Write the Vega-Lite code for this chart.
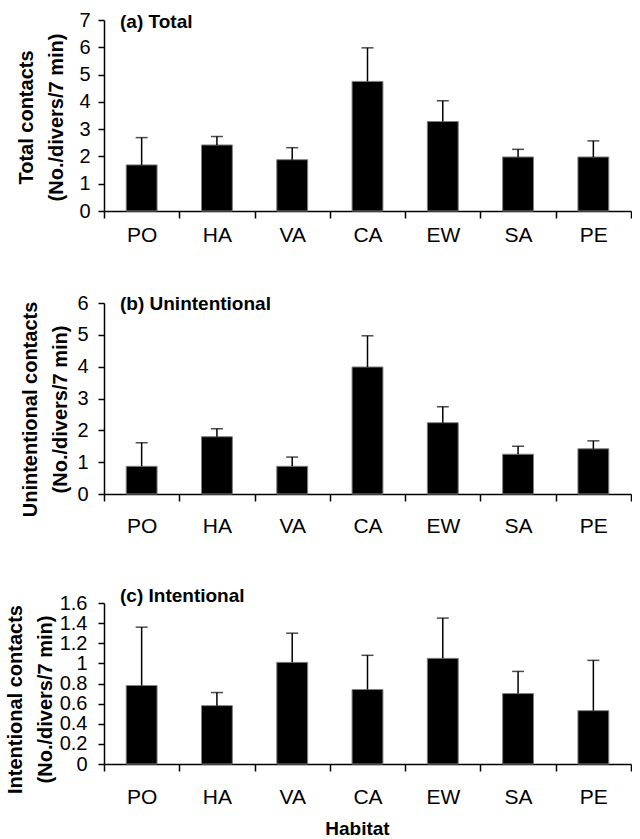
{
  "$schema": "https://vega.github.io/schema/vega-lite/v6.json",
  "padding": {"left": 5, "top": 10, "right": 0, "bottom": 2},
  "background": "white",
  "datasets": {
    "contacts": [
      {"panel": "a", "habitat": "PO", "mean": 1.69, "upper": 2.69},
      {"panel": "a", "habitat": "HA", "mean": 2.42, "upper": 2.73},
      {"panel": "a", "habitat": "VA", "mean": 1.88, "upper": 2.32},
      {"panel": "a", "habitat": "CA", "mean": 4.75, "upper": 5.98},
      {"panel": "a", "habitat": "EW", "mean": 3.28, "upper": 4.04},
      {"panel": "a", "habitat": "SA", "mean": 1.98, "upper": 2.26},
      {"panel": "a", "habitat": "PE", "mean": 1.98, "upper": 2.57},
      {"panel": "b", "habitat": "PO", "mean": 0.87, "upper": 1.61},
      {"panel": "b", "habitat": "HA", "mean": 1.80, "upper": 2.05},
      {"panel": "b", "habitat": "VA", "mean": 0.87, "upper": 1.16},
      {"panel": "b", "habitat": "CA", "mean": 3.99, "upper": 4.97},
      {"panel": "b", "habitat": "EW", "mean": 2.24, "upper": 2.74},
      {"panel": "b", "habitat": "SA", "mean": 1.25, "upper": 1.50},
      {"panel": "b", "habitat": "PE", "mean": 1.42, "upper": 1.67},
      {"panel": "c", "habitat": "PO", "mean": 0.78, "upper": 1.36},
      {"panel": "c", "habitat": "HA", "mean": 0.58, "upper": 0.71},
      {"panel": "c", "habitat": "VA", "mean": 1.01, "upper": 1.30},
      {"panel": "c", "habitat": "CA", "mean": 0.74, "upper": 1.08},
      {"panel": "c", "habitat": "EW", "mean": 1.05, "upper": 1.45},
      {"panel": "c", "habitat": "SA", "mean": 0.70, "upper": 0.92},
      {"panel": "c", "habitat": "PE", "mean": 0.53, "upper": 1.03}
    ]
  },
  "data": {"name": "contacts"},
  "spacing": 48,
  "vconcat": [
    {
      "width": 527,
      "height": 191,
      "transform": [{"filter": "datum.panel === 'a'"}],
      "title": {"text": "(a) Total", "offset": -22.4},
      "encoding": {
        "x": {"field": "habitat", "type": "nominal", "sort": null,
              "scale": {"paddingInner": 0, "paddingOuter": 0},
              "axis": {"title": null, "labelPadding": 6}}
      },
      "layer": [
        {"mark": {"type": "bar", "width": {"band": 0.41}, "color": "black", "stroke": "#808080", "strokeWidth": 1},
         "encoding": {"y": {"field": "mean", "type": "quantitative",
              "scale": {"domain": [0, 7], "nice": false, "zero": true},
              "axis": {"values": [0, 1, 2, 3, 4, 5, 6, 7], "labelPadding": 8, "titlePadding": 12,
                       "titleLineHeight": 30, "titleY": 97,
                       "title": ["Total contacts", "(No./divers/7 min)"]}}}},
        {"mark": {"type": "rule", "color": "black", "strokeWidth": 1.5},
         "encoding": {"y": {"field": "mean", "type": "quantitative",
              "axis": {"values": [0, 1, 2, 3, 4, 5, 6, 7], "labelPadding": 8, "titlePadding": 12,
                       "titleLineHeight": 30, "titleY": 97,
                       "title": ["Total contacts", "(No./divers/7 min)"]}},
                      "y2": {"field": "upper"}}},
        {"mark": {"type": "tick", "color": "black", "size": 12, "thickness": 1.5},
         "encoding": {"y": {"field": "upper", "type": "quantitative",
              "axis": {"values": [0, 1, 2, 3, 4, 5, 6, 7], "labelPadding": 8, "titlePadding": 12,
                       "titleLineHeight": 30, "titleY": 97,
                       "title": ["Total contacts", "(No./divers/7 min)"]}}}}
      ]
    },
    {
      "width": 527,
      "height": 191,
      "transform": [{"filter": "datum.panel === 'b'"}],
      "title": {"text": "(b) Unintentional", "offset": -20.6},
      "encoding": {
        "x": {"field": "habitat", "type": "nominal", "sort": null,
              "scale": {"paddingInner": 0, "paddingOuter": 0},
              "axis": {"title": " ", "titleFontSize": 2, "titlePadding": 0, "labelPadding": 14}}
      },
      "layer": [
        {"mark": {"type": "bar", "width": {"band": 0.41}, "color": "black", "stroke": "#808080", "strokeWidth": 1},
         "encoding": {"y": {"field": "mean", "type": "quantitative",
              "scale": {"domain": [0, 6], "nice": false, "zero": true},
              "axis": {"values": [0, 1, 2, 3, 4, 5, 6], "labelPadding": 10, "titlePadding": 6,
                       "titleLineHeight": 30, "titleY": 106,
                       "title": ["Unintentional contacts", "(No./divers/7 min)"]}}}},
        {"mark": {"type": "rule", "color": "black", "strokeWidth": 1.5},
         "encoding": {"y": {"field": "mean", "type": "quantitative",
              "axis": {"values": [0, 1, 2, 3, 4, 5, 6], "labelPadding": 10, "titlePadding": 6,
                       "titleLineHeight": 30, "titleY": 106,
                       "title": ["Unintentional contacts", "(No./divers/7 min)"]}},
                      "y2": {"field": "upper"}}},
        {"mark": {"type": "tick", "color": "black", "size": 12, "thickness": 1.5},
         "encoding": {"y": {"field": "upper", "type": "quantitative",
              "axis": {"values": [0, 1, 2, 3, 4, 5, 6], "labelPadding": 10, "titlePadding": 6,
                       "titleLineHeight": 30, "titleY": 106,
                       "title": ["Unintentional contacts", "(No./divers/7 min)"]}}}}
      ]
    },
    {
      "width": 527,
      "height": 161,
      "transform": [{"filter": "datum.panel === 'c'"}],
      "title": {"text": "(c) Intentional", "offset": -12.6},
      "encoding": {
        "x": {"field": "habitat", "type": "nominal", "sort": null,
              "scale": {"paddingInner": 0, "paddingOuter": 0},
              "axis": {"title": "Habitat", "labelPadding": 15.5, "titlePadding": 12, "titleX": 253}}
      },
      "layer": [
        {"mark": {"type": "bar", "width": {"band": 0.41}, "color": "black", "stroke": "#808080", "strokeWidth": 1},
         "encoding": {"y": {"field": "mean", "type": "quantitative",
              "scale": {"domain": [0, 1.6], "nice": false, "zero": true},
              "axis": {"values": [0, 0.2, 0.4, 0.6, 0.8, 1, 1.2, 1.4, 1.6], "labelExpr": "'' + datum.value",
                       "labelPadding": 11, "titlePadding": 4, "titleLineHeight": 30, "titleY": 96,
                       "title": ["Intentional contacts", "(No./divers/7 min)"]}}}},
        {"mark": {"type": "rule", "color": "black", "strokeWidth": 1.5},
         "encoding": {"y": {"field": "mean", "type": "quantitative",
              "axis": {"values": [0, 0.2, 0.4, 0.6, 0.8, 1, 1.2, 1.4, 1.6], "labelExpr": "'' + datum.value",
                       "labelPadding": 11, "titlePadding": 4, "titleLineHeight": 30, "titleY": 96,
                       "title": ["Intentional contacts", "(No./divers/7 min)"]}},
                      "y2": {"field": "upper"}}},
        {"mark": {"type": "tick", "color": "black", "size": 12, "thickness": 1.5},
         "encoding": {"y": {"field": "upper", "type": "quantitative",
              "axis": {"values": [0, 0.2, 0.4, 0.6, 0.8, 1, 1.2, 1.4, 1.6], "labelExpr": "'' + datum.value",
                       "labelPadding": 11, "titlePadding": 4, "titleLineHeight": 30, "titleY": 96,
                       "title": ["Intentional contacts", "(No./divers/7 min)"]}}}}
      ]
    }
  ],
  "config": {
    "view": {"stroke": null},
    "font": "Liberation Sans",
    "title": {"anchor": "start", "frame": "group", "dx": 16, "fontSize": 19, "fontWeight": "bold",
              "font": "Liberation Sans", "color": "black", "baseline": "middle"},
    "axis": {"domainColor": "black", "domainWidth": 1.5, "tickColor": "black", "tickWidth": 1.5,
             "grid": false, "labelColor": "black", "titleColor": "black",
             "labelFont": "Liberation Sans", "titleFont": "Liberation Sans",
             "titleFontWeight": "bold", "labelOverlap": false, "labelBound": false},
    "axisX": {"tickBand": "extent", "tickSize": 7, "labelFontSize": 21, "labelAngle": 0,
              "titleFontSize": 19, "labelFlush": false},
    "axisY": {"tickSize": 6, "labelFontSize": 20, "titleFontSize": 20}
  }
}
